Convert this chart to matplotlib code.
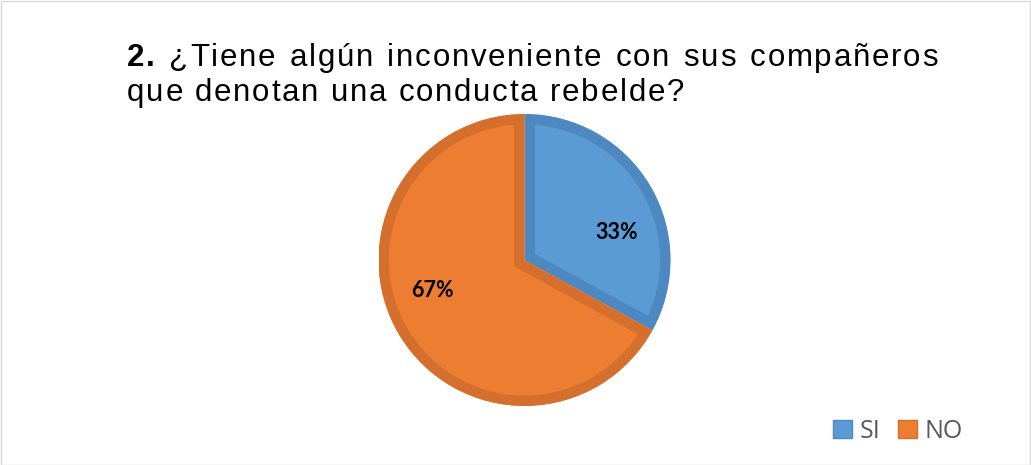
import matplotlib
matplotlib.use("Agg")
import matplotlib.pyplot as plt
from matplotlib.patches import Rectangle

labels = ["SI", "NO"]
values = [33, 67]
fill_colors = ["#5B9BD5", "#ED7D31"]
edge_colors = ["#4E88C0", "#D46F2E"]
line1_words = ["2.", "¿Tiene", "algún", "inconveniente", "con", "sus", "compañeros"]
line2_words = ["que", "denotan", "una", "conducta", "rebelde?"]

W, H = 1031, 465
fig = plt.figure(figsize=(W / 100, H / 100), dpi=100)
fig.patches.append(Rectangle((0.5 / W, 0.5 / H), 1 - 2 / W, 1 - 2 / H, transform=fig.transFigure,
                             fill=False, edgecolor="#D9D9D9", linewidth=1))

# pie
cx, cy, r = 524.5, 465 - 260, 146
ax = fig.add_axes([(cx - r) / W, (cy - r) / H, 2 * r / W, 2 * r / H])
wedges, texts, autotexts = ax.pie(values, colors=fill_colors, startangle=90, counterclock=False,
                                  autopct="%1.0f%%", pctdistance=0.62,
                                  textprops=dict(fontsize=15.5, fontweight="bold", color="black",
                                                 family="Lato"))
for w, ec in zip(wedges, edge_colors):
    w.set_edgecolor(ec)
    w.set_linewidth(15)
    w.set_clip_path(w.get_path(), w.get_transform())
    w.set_clip_on(True)
ax.set_xlim(-1, 1)
ax.set_ylim(-1, 1)
ax.set_aspect("equal")
ax.axis("off")
# move labels where the original has them
autotexts[0].set_position((0.63, 0.19))
autotexts[1].set_position((-0.63, -0.21))

# title, letter-spaced, first line justified
fs = 22.5
fam = "Liberation Sans"
fig.canvas.draw()
rend = fig.canvas.get_renderer()


def width_of(s, weight="normal"):
    t = fig.text(0, 0, s, fontsize=fs, family=fam, fontweight=weight)
    w = t.get_window_extent(rend).width
    t.remove()
    return w


def advance(ch, weight="normal"):
    return width_of("x" + ch + "x", weight) - width_of("xx", weight)


space_w = advance(" ")


def word_width(wd, weight, track):
    return sum(advance(ch, weight) for ch in wd) + track * (len(wd) - 1)


def draw_word(x, y, wd, weight, track):
    for ch in wd:
        fig.text(x / W, y / H, ch, fontsize=fs, family=fam, fontweight=weight, va="baseline")
        x += advance(ch, weight) + track


x_left, x_right = 127, 938
y1, y2 = 465 - 66, 465 - 101
line2_end = 684
nat = sum(word_width(wd, "normal", 0) for wd in line2_words) + space_w * (len(line2_words) - 1)
nchars = sum(len(wd) for wd in line2_words) + len(line2_words) - 1
track = (line2_end - x_left - nat) / (nchars - 1)

x = x_left
for wd in line2_words:
    draw_word(x, y2, wd, "normal", track)
    x += word_width(wd, "normal", track) + 2 * track + space_w

weights = ["bold"] + ["normal"] * (len(line1_words) - 1)
ww = [word_width(wd, wt, track) for wd, wt in zip(line1_words, weights)]
gap = (x_right - x_left - sum(ww)) / (len(line1_words) - 1)
x = x_left
for wd, wt, wdt in zip(line1_words, weights, ww):
    draw_word(x, y1, wd, wt, track)
    x += wdt + gap

# legend
handles = [Rectangle((0, 0), 1, 1, facecolor=c, edgecolor=e) for c, e in zip(fill_colors, edge_colors)]
fig.legend(handles, labels, loc="center", bbox_to_anchor=(898 / W, 1 - 431 / H), ncol=2, frameon=False,
           handlelength=0.75, handleheight=0.75, handletextpad=0.3, columnspacing=0.7,
           prop=dict(family="Open Sans", size=18), labelcolor="#595959")

fig.savefig("out.png", dpi=100)
